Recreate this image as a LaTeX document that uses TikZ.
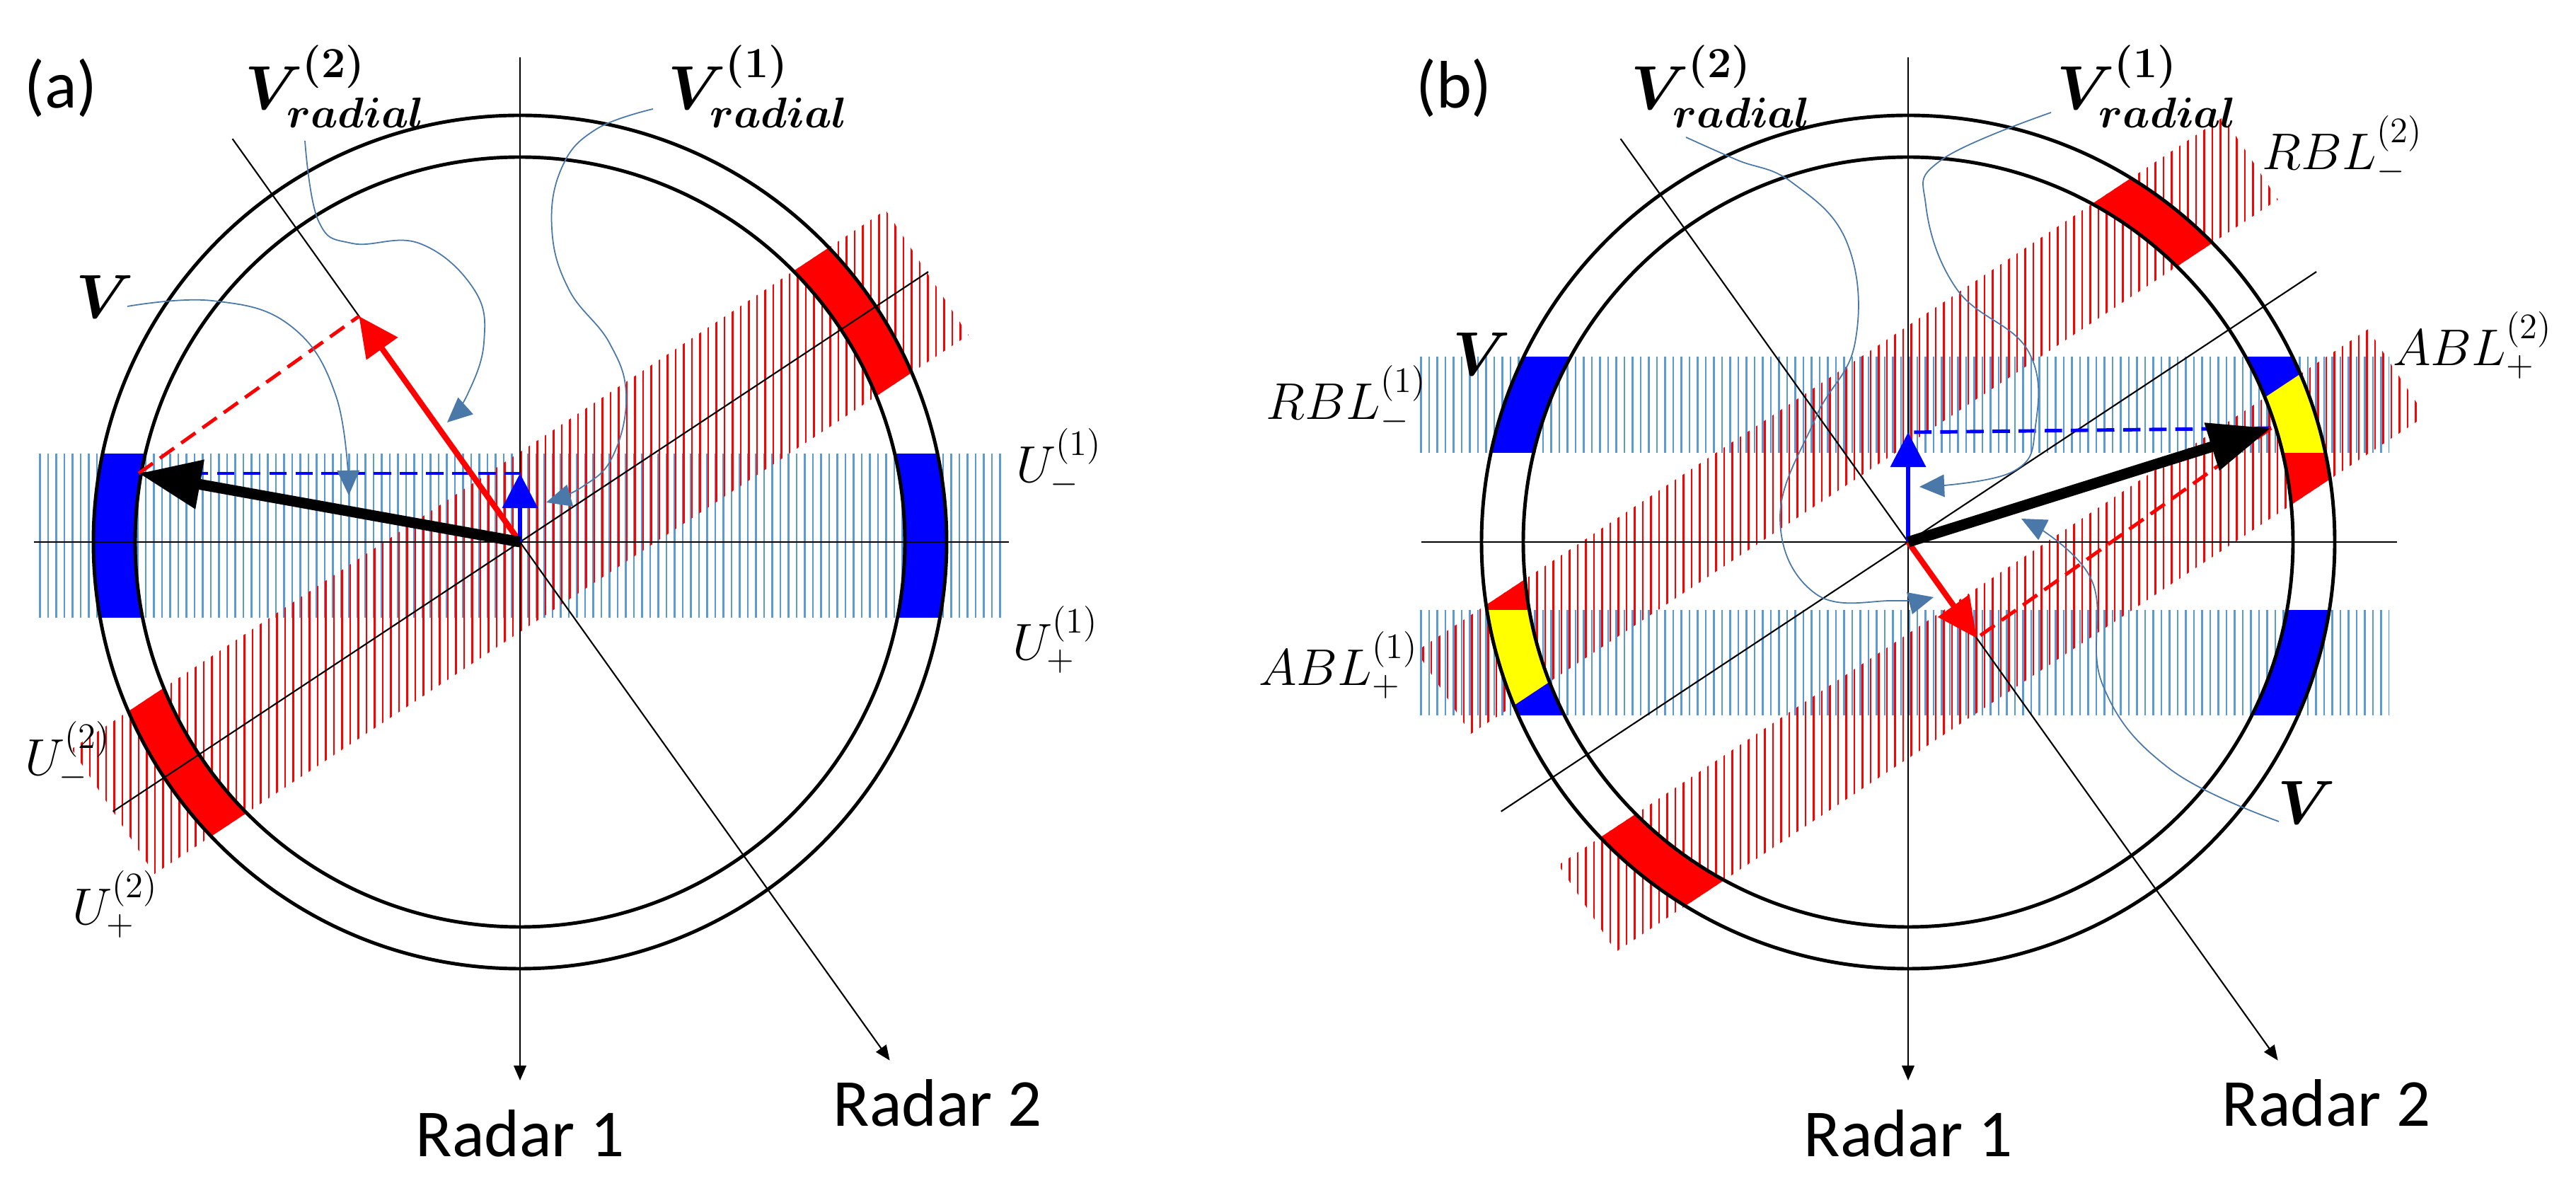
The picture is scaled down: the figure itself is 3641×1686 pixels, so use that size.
\documentclass[tikz,border=0pt]{standalone}
\usepackage{amsmath,bm}
\usepackage{fontspec}
\setmainfont{Carlito}
\usetikzlibrary{arrows.meta,calc}
\definecolor{lb}{HTML}{5B9BD5}
\definecolor{ld}{HTML}{4A78A8}
\definecolor{rr}{HTML}{FF0000}
\definecolor{bb}{HTML}{0000FF}
\definecolor{yy}{HTML}{FFFF00}
\def\bandpath#1#2#3#4{($(33.5:#1)+(123.5:#3)$) -- ($(33.5:#2)+(123.5:#3)$) -- ($(33.5:#2)+(123.5:#4)$) -- ($(33.5:#1)+(123.5:#4)$) -- cycle}
\begin{document}
\begin{tikzpicture}[x=0.01cm,y=-0.01cm,
  ring/.style={line width=1.4pt},
  axis/.style={line width=0.6pt},
  raxis/.style={line width=0.6pt,-{Triangle[length=6pt,width=5pt]}},
  bh/.style={lb,line width=0.7pt},
  rh/.style={rr,line width=0.7pt},
  vb/.style={black,line width=4.3pt,-{Triangle[length=25pt,width=19pt]}},
  vr/.style={rr,line width=2.3pt,-{Triangle[length=16pt,width=15pt]}},
  vu/.style={bb,line width=1.9pt,-{Triangle[length=14pt,width=14pt]}},
  db/.style={bb,line width=1.4pt,dash pattern=on 7pt off 3.5pt},
  dr/.style={rr,line width=1.4pt,dash pattern=on 7pt off 3.5pt},
  leader/.style={ld,line width=0.5pt,-{Triangle[length=10pt,width=9pt]}},
  big/.style={font=\fontsize{27}{30}\selectfont},
  mlab/.style={font=\fontsize{22}{25}\selectfont},
  vlab/.style={font=\fontsize{27}{30}\selectfont},
  vv/.style={font=\fontsize{25}{28}\selectfont}]
\useasboundingbox (0,0) rectangle (3641,1686);

% ================= Panel (a)
\begin{scope}[shift={(735,766)},yscale=-1]
  \coordinate (Oa) at (0,0);
  \begin{scope}
    \clip (-682,-107) rectangle (681,124);
    \foreach \x in {-690,-678.5,...,690} \draw[bh] (\x,-300) -- (\x,300);
  \end{scope}
  \begin{scope}
    \clip \bandpath{-690}{690}{-106}{106};
    \foreach \x in {-700,-688.5,...,700} \draw[rh] (\x,-700) -- (\x,700);
  \end{scope}
  \begin{scope}
    \clip (-682,-107) rectangle (681,124);
    \fill[bb,even odd rule] (0,0) circle (603) (0,0) circle (544);
  \end{scope}
  \begin{scope}
    \clip \bandpath{-690}{690}{-106}{106};
    \fill[rr,even odd rule] (0,0) circle (603) (0,0) circle (544);
  \end{scope}
  \draw[ring] (0,0) circle (603);
  \draw[ring] (0,0) circle (544);
  \coordinate (Ha1) at (-687,0); \coordinate (Ha2) at (691,0);
  \draw[axis] (Ha1) -- (Ha2);
  \coordinate (R1sa) at (0,685); \coordinate (R1ea) at (0,-761);
  \draw[raxis] (R1sa) -- (R1ea);
  \coordinate (R2sa) at (125.5:700); \coordinate (R2ea) at (-54.5:900);
  \draw[raxis] (R2sa) -- (R2ea);
  \coordinate (Pa1) at (213.5:690); \coordinate (Pa2) at (33.5:692);
  \draw[axis] (Pa1) -- (Pa2);
  \coordinate (Va) at (-539,97);
  \coordinate (Ua) at (0,97);
  \coordinate (Wa) at ($(Oa)!(Va)!(R2sa)$);
  \draw[db] (Va) -- (Ua);
  \draw[dr] (Va) -- (Wa);
  \draw[vr] (Oa) -- (Wa);
  \draw[vu] (Oa) -- (Ua);
  \draw[vb] (Oa) -- (Va);
\end{scope}
\node[big] (la) at (86,124) {(a)};
\node[big] (r1a) at (735,1602) {Radar 1};
\node[big] (r2a) at (1325,1559) {Radar 2};
\node[vv] (Vla) at (148,419) {$\bm{V}$};
\node[vlab] (V2a) at (474,122) {$\bm{V^{(2)}_{radial}}$};
\node[vlab] (V1a) at (1072,122) {$\bm{V^{(1)}_{radial}}$};
\node[mlab] (Um1) at (1497,654) {$U_{-}^{(1)}$};
\node[mlab] (Up1) at (1492,904) {$U_{+}^{(1)}$};
\node[mlab] (Um2) at (96,1068) {$U_{-}^{(2)}$};
\node[mlab] (Up2) at (163,1278) {$U_{+}^{(2)}$};
\draw[leader] plot[smooth,tension=0.7] coordinates {(180,433) (300,425) (410,460) (475,560) (493,700)};
\draw[leader] plot[smooth,tension=0.7] coordinates {(431,199) (450,312) (498,344) (593,344) (670,409) (684,484) (660,559) (632,597)};
\draw[leader] plot[smooth,tension=0.7] coordinates {(923,154) (842,183) (794,237) (780,323) (804,409) (861,484) (885,559) (866,645) (823,688) (772,710)};

% ================= Panel (b)
\begin{scope}[shift={(2697,766)},yscale=-1]
  \coordinate (Ob) at (0,0);
  \begin{scope}
    \clip (-697,126) rectangle (680,261);
    \foreach \x in {-700,-688.5,...,690} \draw[bh] (\x,-300) -- (\x,300);
  \end{scope}
  \begin{scope}
    \clip (-697,-245) rectangle (680,-97);
    \foreach \x in {-700,-688.5,...,690} \draw[bh] (\x,-300) -- (\x,300);
  \end{scope}
  \begin{scope}
    \clip \bandpath{-665}{703}{115}{255};
    \foreach \x in {-720,-708.5,...,720} \draw[rh] (\x,-800) -- (\x,800);
  \end{scope}
  \begin{scope}
    \clip \bandpath{-664}{708}{-255}{-108};
    \foreach \x in {-720,-708.5,...,720} \draw[rh] (\x,-800) -- (\x,800);
  \end{scope}
  \begin{scope}
    \clip (-697,126) rectangle (680,261);
    \fill[bb,even odd rule] (0,0) circle (603) (0,0) circle (544);
  \end{scope}
  \begin{scope}
    \clip (-697,-245) rectangle (680,-97);
    \fill[bb,even odd rule] (0,0) circle (603) (0,0) circle (544);
  \end{scope}
  \begin{scope}
    \clip \bandpath{-665}{703}{115}{255};
    \fill[rr,even odd rule] (0,0) circle (603) (0,0) circle (544);
  \end{scope}
  \begin{scope}
    \clip \bandpath{-664}{708}{-255}{-108};
    \fill[rr,even odd rule] (0,0) circle (603) (0,0) circle (544);
  \end{scope}
  \begin{scope}
    \clip (-697,126) rectangle (680,261);
    \clip \bandpath{-664}{708}{-255}{-108};
    \fill[yy,even odd rule] (0,0) circle (603) (0,0) circle (544);
  \end{scope}
  \begin{scope}
    \clip (-697,-245) rectangle (680,-97);
    \clip \bandpath{-665}{703}{115}{255};
    \fill[yy,even odd rule] (0,0) circle (603) (0,0) circle (544);
  \end{scope}
  \draw[ring] (0,0) circle (603);
  \draw[ring] (0,0) circle (544);
  \coordinate (Hb1) at (-688,0); \coordinate (Hb2) at (691,0);
  \draw[axis] (Hb1) -- (Hb2);
  \coordinate (R1sb) at (0,685); \coordinate (R1eb) at (0,-761);
  \draw[raxis] (R1sb) -- (R1eb);
  \coordinate (R2sb) at (125.5:700); \coordinate (R2eb) at (-54.5:900);
  \draw[raxis] (R2sb) -- (R2eb);
  \coordinate (Pb1) at (213.5:690); \coordinate (Pb2) at (33.5:692);
  \draw[axis] (Pb1) -- (Pb2);
  \coordinate (Vb) at (513,161);
  \coordinate (Ub) at (0,155);
  \coordinate (Wb) at ($(Ob)!(Vb)!(R2eb)$);
  \draw[db] (Vb) -- (Ub);
  \draw[dr] (Vb) -- (Wb);
  \draw[vr] (Ob) -- (Wb);
  \draw[vu] (Ob) -- (Ub);
  \draw[vb] (Ob) -- (Vb);
\end{scope}
\node[big] (lb) at (2055,124) {(b)};
\node[big] (r1b) at (2697,1602) {Radar 1};
\node[big] (r2b) at (3288,1559) {Radar 2};
\node[vv] (Vlb1) at (2094,500) {$\bm{V}$};
\node[vv] (Vlb2) at (3260,1134) {$\bm{V}$};
\node[vlab] (V2b) at (2433,122) {$\bm{V^{(2)}_{radial}}$};
\node[vlab] (V1b) at (3035,122) {$\bm{V^{(1)}_{radial}}$};
\node[mlab] (RBL1) at (1903,565) {$RBL_{-}^{(1)}$};
\node[mlab] (ABL1) at (1892,940) {$ABL_{+}^{(1)}$};
\node[mlab] (RBL2) at (3311,212) {$RBL_{-}^{(2)}$};
\node[mlab] (ABL2) at (3495,488) {$ABL_{+}^{(2)}$};
\draw[leader] plot[smooth,tension=0.7] coordinates {(2383,194) (2455,226) (2533,258) (2611,344) (2622,484) (2566,591) (2516,731) (2566,839) (2677,849) (2733,844)};
\draw[leader] plot[smooth,tension=0.7] coordinates {(2899,159) (2744,226) (2722,290) (2766,409) (2866,495) (2877,602) (2844,667) (2713,688)};
\draw[leader] plot[smooth,tension=0.7] coordinates {(3221,1161) (3066,1086) (2972,968) (2955,817) (2857,733)};
\end{tikzpicture}
\end{document}
